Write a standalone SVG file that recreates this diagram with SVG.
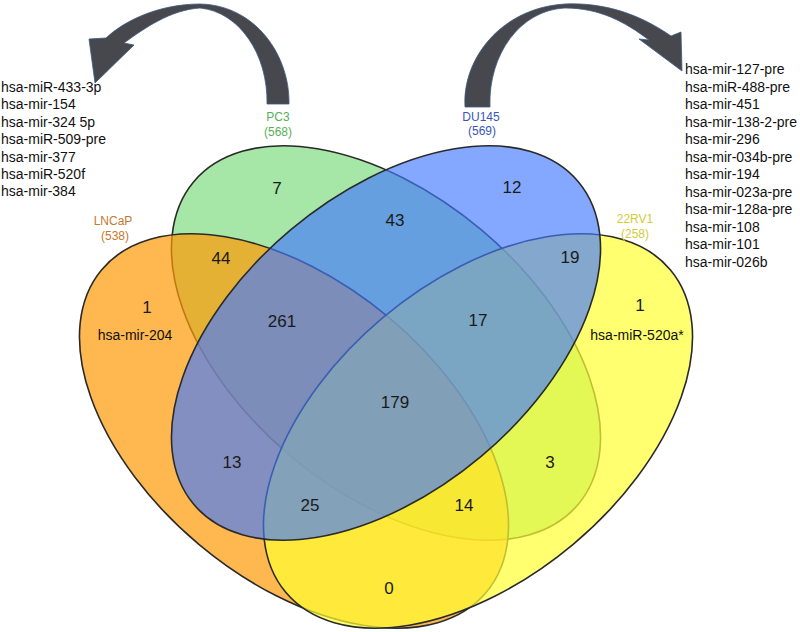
<svg xmlns="http://www.w3.org/2000/svg" width="800" height="632" viewBox="0 0 800 632">
<defs>
<style>
text{font-family:"Liberation Sans",Arial,sans-serif;}
.set{stroke:#2a2a2a;stroke-width:1.6;}
.lbl{font-size:12px;text-anchor:middle;}
.cnt{font-size:17px;text-anchor:middle;fill:#1a1a1a;}
.mir{font-size:14px;fill:#111;}
.mirc{font-size:14px;fill:#111;text-anchor:middle;}
.arr{fill:#46484e;stroke:#3d5a84;stroke-width:0.8;stroke-linejoin:round;}
</style>
</defs>
<rect width="800" height="632" fill="#ffffff"/>
<g id="PC3">
<ellipse class="set" cx="386" cy="343" rx="251" ry="148" transform="rotate(40 386 343)" fill="#a6e6a6"/>
<text class="lbl" x="278" y="121" fill="#56b056">PC3</text>
<text class="lbl" x="278" y="136" fill="#56b056">(568)</text>
</g>
<g id="LNCaP">
<ellipse class="set" cx="294" cy="431" rx="251" ry="148" transform="rotate(40 294 431)" fill="#ff9a04" fill-opacity="0.7"/>
<text class="lbl" x="113" y="225" fill="#c47a2c">LNCaP</text>
<text class="lbl" x="115" y="240" fill="#c47a2c">(538)</text>
</g>
<g id="RV1">
<ellipse class="set" cx="478" cy="431" rx="251" ry="148" transform="rotate(-40 478 431)" fill="#ffff33" fill-opacity="0.7"/>
<text class="lbl" x="635" y="223" fill="#d2cc36">22RV1</text>
<text class="lbl" x="635" y="238" fill="#d2cc36">(258)</text>
</g>
<g id="DU145">
<ellipse class="set" cx="386" cy="343" rx="251" ry="148" transform="rotate(-40 386 343)" fill="#4279ff" fill-opacity="0.65"/>
<text class="lbl" x="481" y="121" fill="#3a56b8">DU145</text>
<text class="lbl" x="482" y="135" fill="#3a56b8">(569)</text>
</g>
<g id="counts">
<text class="cnt" x="277" y="194">7</text>
<text class="cnt" x="512" y="193">12</text>
<text class="cnt" x="221" y="264">44</text>
<text class="cnt" x="395" y="226">43</text>
<text class="cnt" x="570" y="263">19</text>
<text class="cnt" x="147" y="313">1</text>
<text class="mirc" x="135" y="340">hsa-mir-204</text>
<text class="cnt" x="282" y="327">261</text>
<text class="cnt" x="478" y="326">17</text>
<text class="cnt" x="640" y="311">1</text>
<text class="mirc" x="637" y="340">hsa-miR-520a*</text>
<text class="cnt" x="395" y="408">179</text>
<text class="cnt" x="232" y="468">13</text>
<text class="cnt" x="550" y="468">3</text>
<text class="cnt" x="310" y="511">25</text>
<text class="cnt" x="464" y="511">14</text>
<text class="cnt" x="389" y="594">0</text>
</g>
<g id="list-left">
<text class="mir" x="1" y="92">hsa-miR-433-3p</text>
<text class="mir" x="1" y="109.4">hsa-mir-154</text>
<text class="mir" x="1" y="126.8">hsa-mir-324 5p</text>
<text class="mir" x="1" y="144.2">hsa-miR-509-pre</text>
<text class="mir" x="1" y="161.6">hsa-mir-377</text>
<text class="mir" x="1" y="179">hsa-miR-520f</text>
<text class="mir" x="1" y="196.4">hsa-mir-384</text>
</g>
<g id="list-right">
<text class="mir" x="685" y="74.3">hsa-mir-127-pre</text>
<text class="mir" x="685" y="91.8">hsa-miR-488-pre</text>
<text class="mir" x="685" y="109.3">hsa-mir-451</text>
<text class="mir" x="685" y="126.8">hsa-mir-138-2-pre</text>
<text class="mir" x="685" y="144.3">hsa-mir-296</text>
<text class="mir" x="685" y="161.8">hsa-mir-034b-pre</text>
<text class="mir" x="685" y="179.3">hsa-mir-194</text>
<text class="mir" x="685" y="196.8">hsa-mir-023a-pre</text>
<text class="mir" x="685" y="214.3">hsa-mir-128a-pre</text>
<text class="mir" x="685" y="231.8">hsa-mir-108</text>
<text class="mir" x="685" y="249.3">hsa-mir-101</text>
<text class="mir" x="685" y="266.8">hsa-mir-026b</text>
</g>
<g id="connectors">
<path class="arr" d="M 289 104 C 290 55 255 5 200 4 C 160 4 125 20 106 38 L 89 39 L 95 83 L 134 45 L 124 43 C 145 28 170 10 200 8 C 240 12 268 55 267 104 Z"/>
<path class="arr" d="M 465 107 C 462 60 500 8 565 4 C 610 2 645 18 671 36 L 681 32 L 682 71 L 639 39 L 649 40 C 625 22 600 8 565 8 C 520 10 488 55 490 107 Z"/>
</g>
</svg>
